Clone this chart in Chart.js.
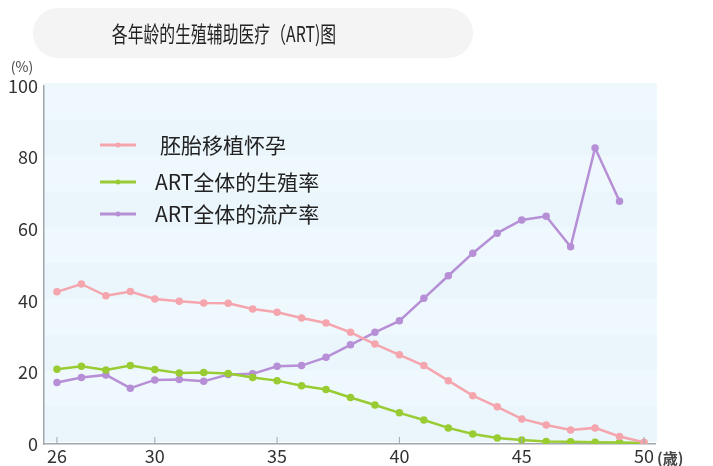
<!DOCTYPE html>
<html>
<head>
<meta charset="utf-8">
<script src="https://cdn.jsdelivr.net/npm/chart.js@4"></script>
<style>
  html, body { margin: 0; padding: 0; background: #fff; }
  #wrap { width: 713px; height: 466px; }
</style>
</head>
<body>
<div id="wrap"><canvas id="artChart" width="713" height="466"></canvas></div>
<script>
const chartTitle = "各年龄的生殖辅助医疗（ART)图";
const ages = [26, 27, 28, 29, 30, 31, 32, 33, 34, 35, 36, 37, 38, 39, 40, 41, 42, 43, 44, 45, 46, 47, 48, 49, 50];
const pregnancyRate = [42.5, 44.7, 41.4, 42.6, 40.5, 39.9, 39.4, 39.3, 37.7, 36.8, 35.2, 33.8, 31.2, 27.9, 24.9, 21.9, 17.7, 13.5, 10.4, 7.0, 5.3, 3.9, 4.5, 2.1, 0.5];
const birthRate = [20.9, 21.7, 20.7, 21.9, 20.8, 19.8, 20.0, 19.7, 18.6, 17.7, 16.3, 15.2, 13.0, 10.9, 8.7, 6.7, 4.5, 2.8, 1.7, 1.1, 0.7, 0.6, 0.5, 0.4, 0.3];
const miscarriageRate = [17.2, 18.6, 19.3, 15.6, 17.9, 18.0, 17.5, 19.4, 19.6, 21.7, 21.9, 24.2, 27.7, 31.2, 34.4, 40.7, 47.0, 53.3, 58.9, 62.6, 63.6, 55.1, 82.7, 67.8];
const seriesNames = ["胚胎移植怀孕", "ART全体的生殖率", "ART全体的流产率"];
const seriesColors = ["#f5a5ad", "#99cc33", "#b68fd6"];
const xTicks = [26, 30, 35, 40, 45, 50];
const yTicks = [0, 20, 40, 60, 80, 100];

const fontFam = "'Noto Sans CJK SC', 'Noto Sans', sans-serif";

function toPoints(vals) {
  return vals.map((v, i) => ({ x: ages[i], y: v }));
}

// background, title pill, legend, unit labels
const decor = {
  id: 'decor',
  beforeDraw(chart) {
    const { ctx, chartArea: a, scales } = chart;
    ctx.save();
    ctx.fillStyle = '#fff';
    ctx.fillRect(0, 0, chart.width, chart.height);
    // plot background with soft bands
    const yS = scales.y;
    for (let v = 0; v < 100; v += 10) {
      ctx.fillStyle = (v / 10) % 2 === 0 ? '#eaf6fb' : '#eff9fd';
      const t = yS.getPixelForValue(v + 10), b = yS.getPixelForValue(v);
      ctx.fillRect(a.left, t - 3, a.right - a.left + 2, b - t + 1);
    }
    // title pill
    ctx.fillStyle = '#f4f4f4';
    ctx.beginPath();
    ctx.roundRect(33, 8, 440, 50, 25);
    ctx.fill();
    // the original title face is narrow, so squeeze it a bit
    ctx.translate(224, 34);
    ctx.scale(0.72, 1);
    ctx.fillStyle = '#222';
    ctx.font = "22px " + fontFam;
    ctx.textAlign = 'center';
    ctx.textBaseline = 'middle';
    ctx.fillText(chartTitle, 0, 0);
    ctx.restore();
  },
  afterDraw(chart) {
    const { ctx, scales } = chart;
    ctx.save();
    // inner ticks on x axis
    ctx.strokeStyle = '#a0a8ae';
    ctx.lineWidth = 1;
    xTicks.forEach(t => {
      const px = scales.x.getPixelForValue(t);
      ctx.beginPath();
      ctx.moveTo(px, scales.y.getPixelForValue(0));
      ctx.lineTo(px, scales.y.getPixelForValue(0) - 7);
      ctx.stroke();
    });
    ctx.fillStyle = '#444';
    ctx.font = "14px " + fontFam;
    ctx.textAlign = 'center';
    ctx.textBaseline = 'middle';
    ctx.fillText('(%)', 22, 67);
    ctx.textAlign = 'left';
    ctx.font = "bold 15px " + fontFam;
    ctx.fillText('(歳)', 657, 458);
    // legend
    const rows = [145, 182, 214];
    chart.data.datasets.forEach((ds, i) => {
      const y = rows[i];
      ctx.strokeStyle = ds.borderColor;
      ctx.lineWidth = 3;
      ctx.beginPath();
      ctx.moveTo(100, y);
      ctx.lineTo(136, y);
      ctx.stroke();
      ctx.fillStyle = ds.borderColor;
      ctx.beginPath();
      ctx.arc(118, y, 2.5, 0, Math.PI * 2);
      ctx.fill();
      ctx.fillStyle = '#222';
      ctx.font = "21px " + fontFam;
      ctx.textAlign = 'left';
      ctx.fillText(ds.label, i === 0 ? 160 : 155, y);
    });
    ctx.restore();
  }
};

const lineStyle = (i) => ({
  label: seriesNames[i],
  borderColor: seriesColors[i],
  backgroundColor: seriesColors[i],
  borderWidth: 2.5,
  pointRadius: 2.5,
  pointHoverRadius: 3,
  tension: 0,
  fill: false
});

new Chart(document.getElementById('artChart'), {
  type: 'line',
  data: {
    datasets: [
      { ...lineStyle(0), data: toPoints(pregnancyRate) },
      { ...lineStyle(1), data: toPoints(birthRate) },
      { ...lineStyle(2), data: toPoints(miscarriageRate) }
    ]
  },
  options: {
    responsive: false,
    animation: false,
    devicePixelRatio: 1,
    layout: { padding: { top: 86, right: 58, left: 0, bottom: 0 } },
    plugins: {
      legend: { display: false },
      title: { display: false },
      tooltip: { enabled: false }
    },
    scales: {
      x: {
        type: 'linear',
        min: 25.47,
        max: 50.45,
        afterBuildTicks(s) { s.ticks = xTicks.map(v => ({ value: v })); },
        afterFit(s) { s.height = 22; },
        grid: { display: false, drawTicks: false },
        border: { color: '#a0a8ae', width: 1.5 },
        ticks: {
          color: '#333',
          font: { size: 18, family: fontFam },
          padding: 1,
          maxRotation: 0,
          autoSkip: false
        }
      },
      y: {
        min: 0,
        max: 100,
        afterBuildTicks(s) { s.ticks = yTicks.map(v => ({ value: v })); },
        afterFit(s) { s.width = 44; },
        grid: { display: false, drawTicks: false },
        border: { color: '#a0a8ae', width: 1.5 },
        ticks: {
          color: '#333',
          font: { size: 18, family: fontFam },
          padding: 6
        }
      }
    }
  },
  plugins: [decor]
});
</script>
</body>
</html>
